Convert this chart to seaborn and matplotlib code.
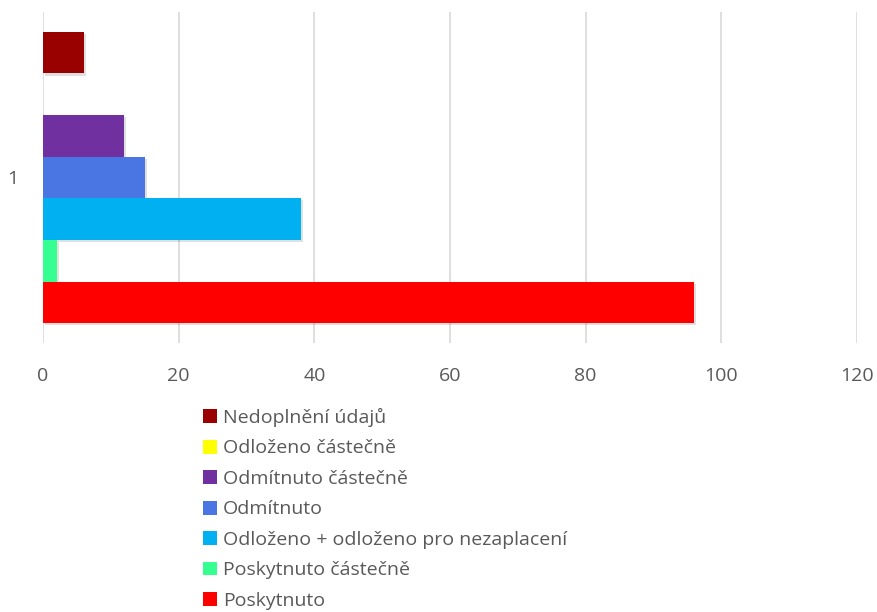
import pandas as pd
import matplotlib
matplotlib.use("Agg")
import matplotlib.pyplot as plt
import matplotlib.patheffects as pe
from matplotlib.patches import Patch
import seaborn as sns

# data
category = ["1"]
series = [
    "Nedoplnění údajů",
    "Odloženo částečně",
    "Odmítnuto částečně",
    "Odmítnuto",
    "Odloženo + odloženo pro nezaplacení",
    "Poskytnuto částečně",
    "Poskytnuto",
]
values = [6, 0, 12, 15, 38, 2, 96]
colors = ["#990000", "#FFFF00", "#7030A0", "#4A76E4", "#00B0F0", "#36FF91", "#FF0000"]
x_ticks = [0, 20, 40, 60, 80, 100, 120]

df = pd.DataFrame({"cat": category * len(series), "series": series, "value": values})

sns.set_style("white")
plt.rcParams["font.family"] = ["Open Sans", "DejaVu Sans"]
text_color = "#595959"

fig = plt.figure(figsize=(8.77, 6.12), dpi=100)
ax = fig.add_axes([43 / 877, 1 - 343 / 612, (857 - 43) / 877, (343 - 12) / 612])

sns.barplot(data=df, x="value", y="cat", hue="series", hue_order=series,
            palette=colors, saturation=1, orient="h", width=0.88, linewidth=0,
            legend=False, ax=ax)

shadow = [pe.SimplePatchShadow(offset=(1.5, -1.5), shadow_rgbFace="#000000", alpha=0.12), pe.Normal()]
for p in ax.patches:
    p.set_path_effects(shadow)

ax.set_xlim(0, 120)
ax.set_ylim(0.5, -0.5)
ax.set_xticks(x_ticks)
ax.set_xticklabels([str(t) for t in x_ticks])
ax.set_xlabel("")
ax.set_ylabel("")
ax.grid(axis="x", color="#D9D9D9", linewidth=1.2)
ax.set_axisbelow(True)
for s in ax.spines.values():
    s.set_visible(False)
ax.tick_params(axis="x", length=0, pad=17, labelsize=14, labelcolor=text_color)
ax.tick_params(axis="y", length=0, pad=18, labelsize=14, labelcolor=text_color)

handles = [Patch(facecolor=c, edgecolor="none") for c in colors]
fig.legend(handles, series, loc="upper left", bbox_to_anchor=(203 / 877, 1 - 408 / 612),
           frameon=False, fontsize=14, labelcolor=text_color,
           handlelength=0.72, handleheight=0.72, handletextpad=0.3,
           labelspacing=0.64, borderpad=0, borderaxespad=0)

fig.savefig("out.png", dpi=100)
